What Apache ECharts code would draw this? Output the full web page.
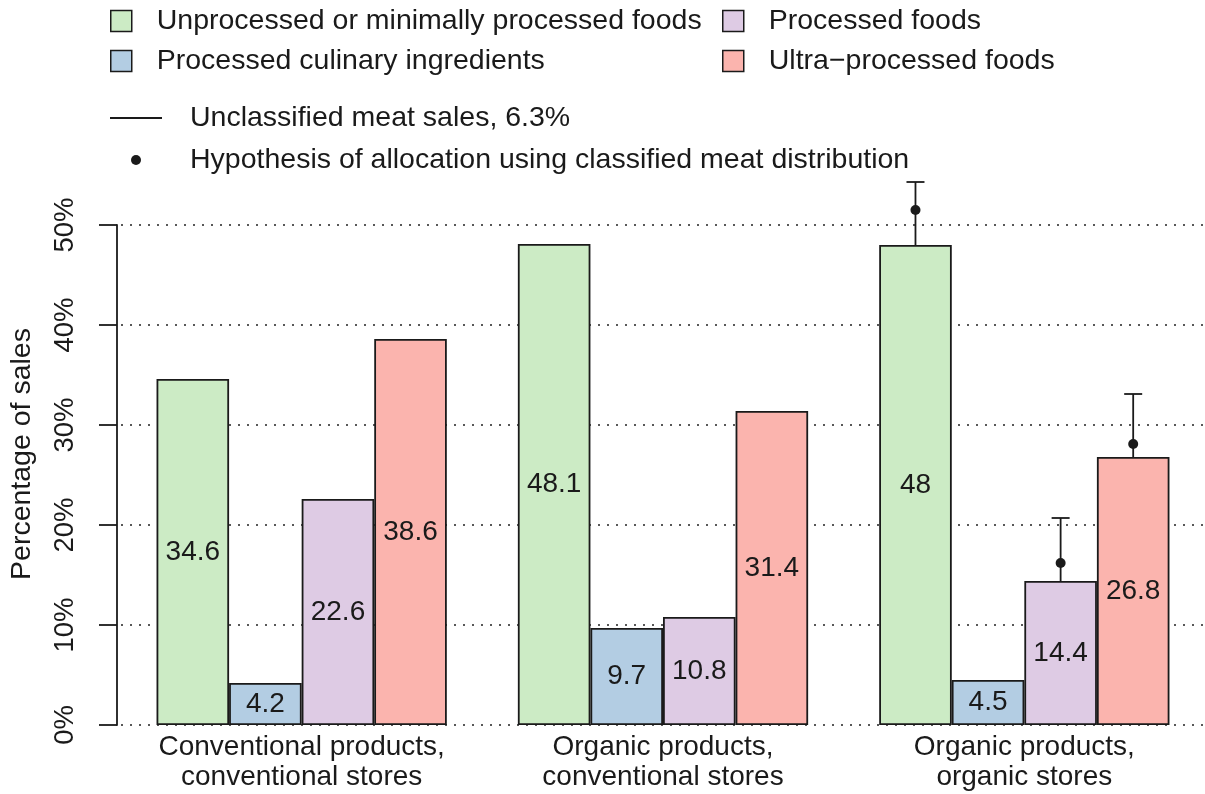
<!DOCTYPE html>
<html>
<head>
<meta charset="utf-8">
<title>Sales by processing level</title>
<script src="https://cdn.jsdelivr.net/npm/echarts@6/dist/echarts.min.js"></script>
<style>
html, body { margin: 0; padding: 0; background: #ffffff; }
#main { width: 1205px; height: 794px; }
</style>
</head>
<body>
<div id="main"></div>
<script>
// store / product groups
var categories = [
  'Conventional products,\nconventional stores',
  'Organic products,\nconventional stores',
  'Organic products,\norganic stores'
]
var foodTypes = [
  'Unprocessed or minimally processed foods',
  'Processed culinary ingredients',
  'Processed foods',
  'Ultra\u2212processed foods'
]
// percentage of sales per food type
var unprocessed = [34.6, 48.1, 48]
var culinary = [4.2, 9.7, 4.5]
var processed = [22.6, 10.8, 14.4]
var ultra = [38.6, 31.4, 26.8]

// unclassified meat (6.3%), only in organic stores
var meatGroup = [2, 2, 2]
var meatType = [0, 2, 3]
var meatTop = [54.3, 20.7, 33.1]
var meatHypothesis = [51.5, 16.2, 28.1]

var yTicks = [0, 10, 20, 30, 40, 50]

var lineName = 'Unclassified meat sales, 6.3%'
var dotName = 'Hypothesis of allocation using classified meat distribution'

var colors = ['#CCEBC5', '#B3CDE3', '#DECBE4', '#FBB4AE']
var values = [unprocessed, culinary, processed, ultra]
var FONT = 'Liberation Sans, Arial, sans-serif'
var TXT = '#1a1a1a'
var BAR_W = 72.57

var chart = echarts.init(document.getElementById('main'))

var barSeries = foodTypes.map(function(name, i) {
  return {
    name: name,
    type: 'bar',
    data: values[i],
    barWidth: BAR_W,
    barGap: '0%',
    itemStyle: { color: colors[i], borderColor: TXT, borderWidth: 1.8 },
    label: {
      show: true,
      position: 'inside',
      color: TXT,
      fontFamily: FONT,
      fontSize: 28
    }
  }
})

var lineData = meatGroup.map(function(g, k) {
  return [g, meatType[k], values[meatType[k]][g], meatTop[k]]
})
var dotData = meatGroup.map(function(g, k) {
  return [g, meatType[k], meatHypothesis[k]]
})

var legendText = { fontFamily: FONT, fontSize: 28.5, lineHeight: 30, color: TXT, padding: [0, 0, 0, 20] }

var option = {
  animation: false,
  textStyle: { fontFamily: FONT, color: TXT },
  legend: [
    {
      orient: 'vertical', left: 110, top: 6, padding: 0,
      selectedMode: false,
      data: [foodTypes[0], foodTypes[1]],
      icon: 'rect', itemWidth: 21, itemHeight: 21, itemGap: 10,
      itemStyle: { borderColor: TXT, borderWidth: 1.5 },
      textStyle: legendText
    },
    {
      orient: 'vertical', left: 722, top: 6, padding: 0,
      selectedMode: false,
      data: [foodTypes[2], foodTypes[3]],
      icon: 'rect', itemWidth: 21, itemHeight: 21, itemGap: 10,
      itemStyle: { borderColor: TXT, borderWidth: 1.5 },
      textStyle: legendText
    },
    {
      orient: 'vertical', left: 110, top: 103, padding: 0,
      selectedMode: false,
      symbolKeepAspect: true,
      data: [
        { name: lineName, icon: 'path://M0,0H52V2H0Z' },
        { name: dotName, icon: 'circle' }
      ],
      itemWidth: 52, itemHeight: 10, itemGap: 12,
      textStyle: { fontFamily: FONT, fontSize: 28.5, lineHeight: 30, color: TXT, padding: [0, 0, 0, 23] }
    }
  ],
  grid: { left: 120.6, top: 225, width: 1088.6, height: 500 },
  xAxis: {
    type: 'category',
    data: categories,
    axisLine: { show: false },
    axisTick: { show: false },
    axisLabel: { interval: 0, hideOverlap: false, color: TXT, fontFamily: FONT, fontSize: 28, lineHeight: 30, margin: 7 }
  },
  yAxis: {
    type: 'value',
    min: yTicks[0],
    max: yTicks[yTicks.length - 1],
    interval: 10,
    offset: 4,
    name: 'Percentage of sales',
    nameLocation: 'middle',
    nameRotate: 90,
    nameGap: 80,
    nameTextStyle: { color: TXT, fontFamily: FONT, fontSize: 28.5, padding: [0, 0, 0, 42] },
    axisLine: { show: true, lineStyle: { color: TXT, width: 1.8 } },
    axisTick: { show: true, length: 18, lineStyle: { color: TXT, width: 1.8 } },
    axisLabel: { rotate: 90, margin: 38, color: TXT, fontFamily: FONT, fontSize: 27.5, formatter: '{value}%' },
    splitLine: { show: true, lineStyle: { color: '#222', width: 1.6, type: [2, 7] } }
  },
  series: barSeries.concat([
    {
      name: lineName,
      type: 'custom',
      clip: false,
      z: 5,
      itemStyle: { color: TXT },
      encode: { x: 0, y: 3 },
      data: lineData,
      renderItem: function(params, api) {
        var base = api.coord([api.value(0), api.value(2)])
        var top = api.coord([api.value(0), api.value(3)])
        var x = base[0] + (api.value(1) - 1.5) * BAR_W
        var st = { stroke: TXT, lineWidth: 1.8 }
        return {
          type: 'group',
          children: [
            { type: 'line', shape: { x1: x, y1: base[1], x2: x, y2: top[1] }, style: st },
            { type: 'line', shape: { x1: x - 9, y1: top[1], x2: x + 9, y2: top[1] }, style: st }
          ]
        }
      }
    },
    {
      name: dotName,
      type: 'custom',
      clip: false,
      z: 6,
      itemStyle: { color: TXT },
      encode: { x: 0, y: 2 },
      data: dotData,
      renderItem: function(params, api) {
        var p = api.coord([api.value(0), api.value(2)])
        var x = p[0] + (api.value(1) - 1.5) * BAR_W
        return { type: 'circle', shape: { cx: x, cy: p[1], r: 5 }, style: { fill: TXT } }
      }
    }
  ])
}
chart.setOption(option)
</script>
</body>
</html>
